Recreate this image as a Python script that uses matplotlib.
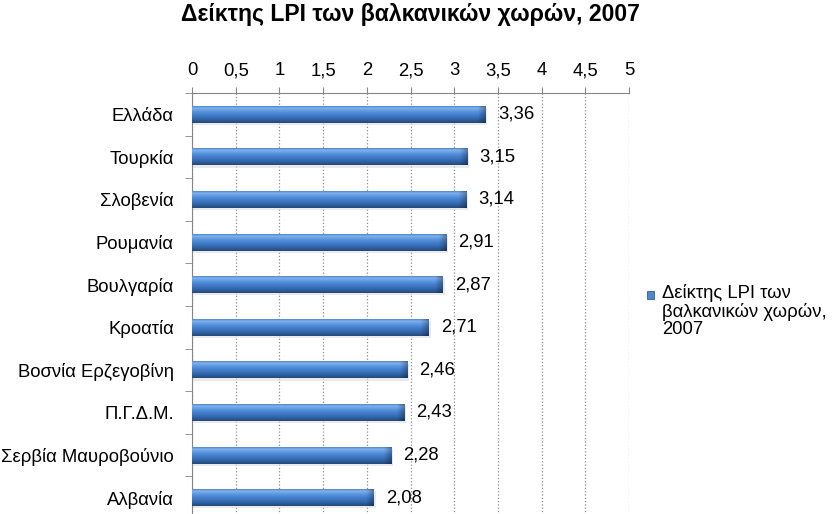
import numpy as np
import matplotlib

matplotlib.use("Agg")
import matplotlib.pyplot as plt
from matplotlib.colors import to_rgb

plt.rcParams["font.family"] = ["Liberation Sans", "DejaVu Sans"]

# data
countries = ["Ελλάδα", "Τουρκία", "Σλοβενία", "Ρουμανία", "Βουλγαρία",
             "Κροατία", "Βοσνία Ερζεγοβίνη", "Π.Γ.Δ.Μ.", "Σερβία Μαυροβούνιο", "Αλβανία"]
lpi = [3.36, 3.15, 3.14, 2.91, 2.87, 2.71, 2.46, 2.43, 2.28, 2.08]
x_ticks = [0, 0.5, 1, 1.5, 2, 2.5, 3, 3.5, 4, 4.5, 5]
series_name = "Δείκτης LPI των\nβαλκανικών χωρών,\n2007"
title = "Δείκτης LPI των βαλκανικών χωρών, 2007"

FS = 13.3

fig = plt.figure(figsize=(8.33, 5.14), dpi=100)
ax = fig.add_axes([192 / 833, -5 / 514, 437 / 833, 426 / 514])

y = np.arange(len(countries))
bar_h = 0.4

# vertical shading of the bevelled bars (top -> bottom)
stops = ["#3f73b8", "#80b2ee", "#5e98e0", "#4683cf", "#3b72bd", "#2f5f9f", "#22487a"]
rgb = np.array([to_rgb(c) for c in stops])
ny, nx = 60, 300
t = np.linspace(0, 1, ny)
pos = np.linspace(0, 1, len(stops))
col = np.stack([np.interp(t, pos, rgb[:, k]) for k in range(3)], axis=1)

bars = ax.barh(y, lpi, height=bar_h, color="none", edgecolor="none", zorder=3)
for b, v in zip(bars, lpi):
    img = np.repeat(col[:, None, :], nx, axis=1).copy()
    xs = np.linspace(0, v, nx)
    cap = np.clip((xs - (v - 0.09)) / 0.09, 0, 1)
    img *= (1 - 0.3 * cap)[None, :, None]
    yb = b.get_y()
    im = ax.imshow(img, extent=[0, v, yb + bar_h, yb], aspect="auto",
                   interpolation="bilinear", zorder=3)
    im.set_clip_path(b)
    # faint shadow below bar
    ax.barh(b.get_y() + bar_h / 2 + 0.05, v + 0.02, height=bar_h, color="#dcdcdc",
            alpha=0.6, zorder=2)
    ax.text(v + 0.14, b.get_y() + bar_h / 2, f"{v:.2f}".replace(".", ","),
            va="center", ha="left", fontsize=FS, zorder=4)

ax.set_xlim(0, 5)
ax.set_ylim(len(countries) - 0.5, -0.5)
ax.xaxis.tick_top()
ax.set_xticks(x_ticks)
ax.set_xticklabels([f"{v:g}".replace(".", ",") for v in x_ticks], fontsize=FS)
ax.tick_params(axis="x", length=4, color="#868686", pad=6)
ax.grid(axis="x", color="#8c8c8c", ls=":", lw=0.9, zorder=0)

ax.set_yticks(y)
ax.set_yticklabels(countries, fontsize=FS)
ax.set_yticks(np.arange(len(countries) + 1) - 0.5, minor=True)
ax.tick_params(axis="y", which="major", length=0, pad=13)
ax.tick_params(axis="y", which="minor", length=5, color="#868686")

for side in ("right", "bottom"):
    ax.spines[side].set_visible(False)
for side in ("top", "left"):
    ax.spines[side].set_color("#868686")

ax.set_facecolor("none")

# legend
fig.patches.append(plt.Rectangle((647 / 833, 1 - 299 / 514), 7 / 833, 8 / 514,
                                 transform=fig.transFigure, facecolor="#4f86cc",
                                 edgecolor="#2f5f9f", lw=0.6))
fig.text(662 / 833, 1 - 284 / 514, series_name, fontsize=FS, va="top", ha="left",
         linespacing=1.05)

fig.text(410 / 833, 1 - 14 / 514, title, fontsize=16.6, fontweight="bold",
         ha="center", va="center")

fig.savefig("out.png", dpi=100)
